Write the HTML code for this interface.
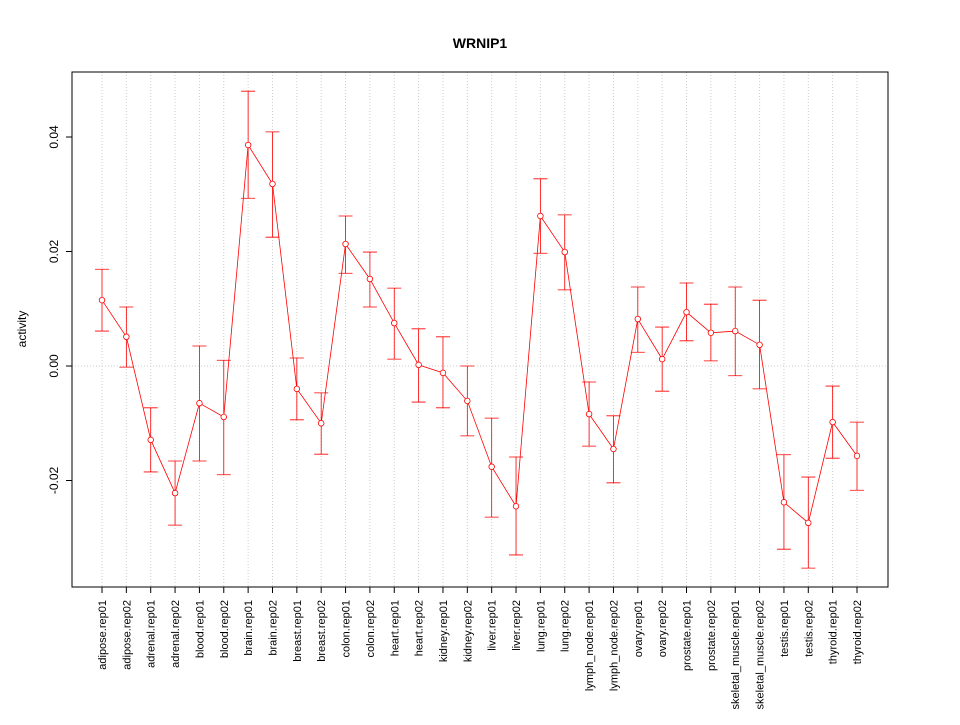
<!DOCTYPE html>
<html><head><meta charset="utf-8"><style>
body{margin:0;background:#fff}
svg text{font-family:"Liberation Sans",Arial,sans-serif}
</style></head><body>
<svg id="chart" width="960" height="720" xmlns="http://www.w3.org/2000/svg">
<rect width="960" height="720" fill="#fff"/>
<text x="480" y="48" text-anchor="middle" font-size="14" font-weight="bold">WRNIP1</text>
<text transform="translate(26,329) rotate(-90)" text-anchor="middle" font-size="12">activity</text>
<g id="grid"></g><g id="axes"></g><g id="marks"></g>
</svg>
<script>
const categories=["adipose.rep01","adipose.rep02","adrenal.rep01","adrenal.rep02","blood.rep01","blood.rep02","brain.rep01","brain.rep02","breast.rep01","breast.rep02","colon.rep01","colon.rep02","heart.rep01","heart.rep02","kidney.rep01","kidney.rep02","liver.rep01","liver.rep02","lung.rep01","lung.rep02","lymph_node.rep01","lymph_node.rep02","ovary.rep01","ovary.rep02","prostate.rep01","prostate.rep02","skeletal_muscle.rep01","skeletal_muscle.rep02","testis.rep01","testis.rep02","thyroid.rep01","thyroid.rep02"];
const values=[0.0115,0.0051,-0.0129,-0.0222,-0.0065,-0.0089,0.0386,0.0318,-0.0040,-0.0100,0.0213,0.0152,0.0075,0.0002,-0.0012,-0.0061,-0.0176,-0.0245,0.0262,0.0199,-0.0084,-0.0145,0.0082,0.0012,0.0094,0.0058,0.0061,0.0037,-0.0238,-0.0274,-0.0098,-0.0157];
const upper=[0.0169,0.0103,-0.0073,-0.0166,0.0035,0.0010,0.0480,0.0409,0.0014,-0.0047,0.0262,0.0199,0.0136,0.0065,0.0051,0.0000,-0.0091,-0.0159,0.0327,0.0264,-0.0028,-0.0087,0.0138,0.0068,0.0145,0.0108,0.0138,0.0115,-0.0155,-0.0194,-0.0035,-0.0098];
const lower=[0.0061,-0.0002,-0.0185,-0.0278,-0.0166,-0.0190,0.0293,0.0225,-0.0094,-0.0154,0.0162,0.0103,0.0012,-0.0063,-0.0073,-0.0122,-0.0264,-0.0330,0.0197,0.0133,-0.0140,-0.0204,0.0024,-0.0044,0.0044,0.0009,-0.0017,-0.0040,-0.0320,-0.0353,-0.0161,-0.0217];
const yTicks=[-0.02,0.00,0.02,0.04];
const yTickLabels=["-0.02","0.00","0.02","0.04"];
const NS="http://www.w3.org/2000/svg";
const L=72,R=888,T=72,B=587;
const x=i=>102+i*(857-102)/(categories.length-1);
const y=v=>366-v*5725;
function mk(p,tag,a){const e=document.createElementNS(NS,tag);for(const k in a)e.setAttribute(k,a[k]);p.appendChild(e);return e;}
const grid=document.getElementById('grid'),axes=document.getElementById('axes'),marks=document.getElementById('marks');
categories.forEach((c,i)=>{
 const g=mk(grid,'line',{x1:x(i),x2:x(i),y1:T,y2:B,stroke:'#ccc','stroke-dasharray':'1,2'});
 
 
 const t=mk(axes,'line',{x1:x(i),x2:x(i),y1:B,y2:B+6,stroke:'#000'});
 
 
 const lb=mk(axes,'text',{transform:`translate(${x(i)+4},${B+13}) rotate(-90)`,'text-anchor':'end','font-size':'11'});
 lb.textContent=c;
 
 
});
const hg=mk(grid,'line',{x1:L,x2:R,y1:y(0),y2:y(0),stroke:'#ccc','stroke-dasharray':'1,2'});


const frame=mk(axes,'rect',{x:L,y:T,width:R-L,height:B-T,fill:'none',stroke:'#000'});


const ya=mk(axes,'line',{x1:L,x2:L,y1:y(yTicks[0]),y2:y(yTicks[yTicks.length-1]),stroke:'#000'});


const xa=mk(axes,'line',{x1:x(0),x2:x(categories.length-1),y1:B,y2:B,stroke:'#000'});


yTicks.forEach((v,i)=>{
 const t=mk(axes,'line',{x1:L-6,x2:L,y1:y(v),y2:y(v),stroke:'#000'});
 
 
 const lb=mk(axes,'text',{transform:`translate(${L-14},${y(v)}) rotate(-90)`,'text-anchor':'middle','font-size':'12'});
 lb.textContent=yTickLabels[i];
 
 
});
const line=mk(marks,'polyline',{points:values.map((v,i)=>x(i)+','+y(v)).join(' '),fill:'none',stroke:'#f00','stroke-width':'0.8'});


values.forEach((v,i)=>{
 const eb=mk(marks,'path',{d:`M${x(i)},${y(upper[i])}V${y(lower[i])}M${x(i)-7},${y(upper[i])}H${x(i)+7}M${x(i)-7},${y(lower[i])}H${x(i)+7}`,stroke:'#f00',fill:'none','stroke-width':'0.8'});
 
 
 const p=mk(marks,'circle',{cx:x(i),cy:y(v),r:2.8,fill:'#fff',stroke:'#f00','stroke-width':'0.8'});
 
 
});
</script>
</body></html>
